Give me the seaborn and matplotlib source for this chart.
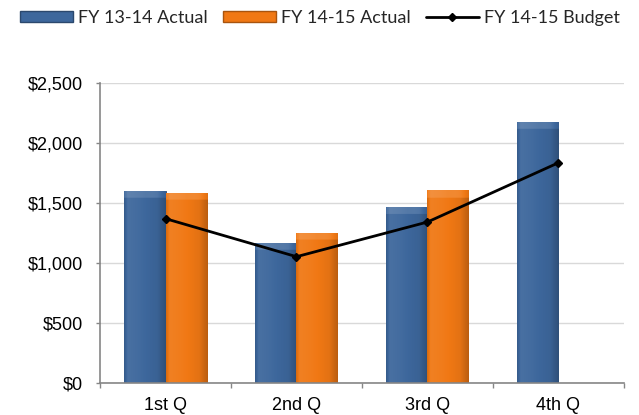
import matplotlib
matplotlib.use('Agg')
import matplotlib.pyplot as plt
import matplotlib.colors as mcolors
from matplotlib.ticker import FuncFormatter, FixedLocator
from matplotlib.patches import Patch
from matplotlib.lines import Line2D
import seaborn as sns
import pandas as pd
import numpy as np

quarters = ['1st Q', '2nd Q', '3rd Q', '4th Q']
fy1314_actual = [1605, 1167, 1469, 2180]
fy1415_actual = [1588, 1252, 1608, np.nan]
fy1415_budget = [1372, 1055, 1344, 1838]
series_names = ['FY 13-14 Actual', 'FY 14-15 Actual', 'FY 14-15 Budget']
yticks = [0, 500, 1000, 1500, 2000, 2500]

blue = '#3D679C'
orange = '#F07814'

sns.set_theme(style='white')
plt.rcParams['font.family'] = ['Liberation Sans', 'DejaVu Sans']

rows = []
for q, a, b in zip(quarters, fy1314_actual, fy1415_actual):
    rows.append({'Quarter': q, 'Series': series_names[0], 'Value': a})
    rows.append({'Quarter': q, 'Series': series_names[1], 'Value': b})
df = pd.DataFrame(rows).dropna()

fig = plt.figure(figsize=(6.39, 4.15), dpi=100)
ax = fig.add_axes([0.1565, 0.0764, 0.82, 0.7229])

sns.barplot(data=df, x='Quarter', y='Value', hue='Series', order=quarters,
            hue_order=series_names[:2], palette=[blue, orange], saturation=1,
            width=0.626, errorbar=None, ax=ax, legend=False, zorder=2)


def shade(base, f):
    r, g, b = mcolors.to_rgb(base)
    if f >= 1:
        t = f - 1
        return (r + (1 - r) * t, g + (1 - g) * t, b + (1 - b) * t)
    return (r * f, g * f, b * f)


for p in list(ax.patches):
    h = p.get_height()
    if not np.isfinite(h) or h <= 0:
        continue
    base = p.get_facecolor()
    x0, w = p.get_x(), p.get_width()
    ncols = 40
    nrows = 200
    xs = np.linspace(0, 1, ncols)
    prof = np.interp(xs, [0, 0.08, 0.35, 0.8, 1.0], [0.9, 1.06, 1.03, 0.95, 0.78])
    img = np.zeros((nrows, ncols, 3))
    band = min(60.0 / h, 0.3)
    for i in range(nrows):
        yfrac = 1 - i / (nrows - 1)
        for j in range(ncols):
            f = prof[j]
            if yfrac > 1 - band:
                f = f + 0.12 if f >= 1 else min(f + 0.15, 1.12)
            img[i, j] = shade(base, f)
    im = ax.imshow(np.clip(img, 0, 1), extent=[x0, x0 + w, 0, h], aspect='auto',
                   zorder=2.1, interpolation='bilinear')
    im.set_clip_path(p)
    p.set_edgecolor(shade(base, 0.7))
    p.set_linewidth(0.6)

xpos = np.arange(len(quarters))
ax.plot(xpos, fy1415_budget, color='black', lw=2, marker='D', ms=4, zorder=4)

ax.set_xlim(-0.5, 3.5)
ax.set_ylim(0, 2500)
ax.set_yticks(yticks)
ax.yaxis.set_major_formatter(FuncFormatter(lambda v, _: f'${v:,.0f}'))
ax.set_xticks(xpos)
ax.set_xticklabels(quarters)
ax.xaxis.set_minor_locator(FixedLocator(np.arange(-0.5, 4, 1)))
ax.tick_params(axis='x', which='major', length=0, pad=10, labelsize=13, labelcolor='black')
ax.tick_params(axis='x', which='minor', length=3.6, width=1, color='#868686', direction='out', bottom=True)
ax.tick_params(axis='y', length=3.2, width=1, color='#868686', direction='out', left=True,
               labelsize=13, labelcolor='black', pad=9)
ax.set_xlabel('')
ax.set_ylabel('')
ax.yaxis.grid(True, color='#D9D9D9', lw=1, zorder=0)
ax.set_axisbelow(True)
for s in ['top', 'right']:
    ax.spines[s].set_visible(False)
for s in ['left', 'bottom']:
    ax.spines[s].set_color('#868686')
    ax.spines[s].set_linewidth(1.2)

handles = [Patch(facecolor=blue, edgecolor=shade(blue, 0.7)),
           Patch(facecolor=orange, edgecolor=shade(orange, 0.7)),
           Line2D([0], [0], color='black', lw=2, marker='D', ms=4)]
fig.legend(handles, series_names, loc='center', bbox_to_anchor=(0.501, 0.9566), ncol=3,
           frameon=False, handlelength=2.9, handleheight=0.55, columnspacing=0.85,
           handletextpad=0.3, borderpad=0, borderaxespad=0,
           prop={'family': ['Lato', 'DejaVu Sans'], 'size': 13})

fig.savefig('out.png', dpi=100)
